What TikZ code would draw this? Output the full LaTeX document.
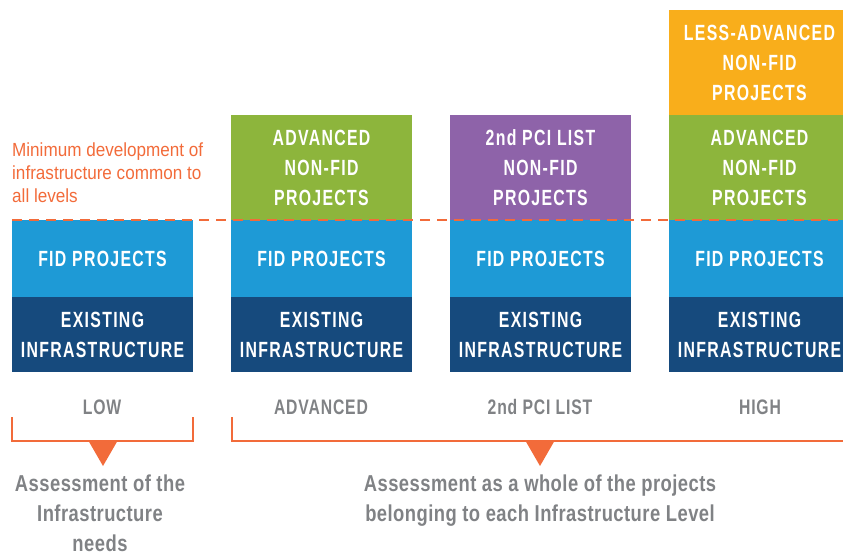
\documentclass[tikz,border=0pt]{standalone}
\usepackage{fontspec}
\newfontfamily\boxfont[FakeStretch=0.72,LetterSpace=6]{Liberation Sans Bold}
\newfontfamily\grayfont[FakeStretch=0.75,LetterSpace=4]{Liberation Sans Bold}
\newfontfamily\bottomfont[FakeStretch=0.8,LetterSpace=2]{Liberation Sans Bold}
\newfontfamily\notefont[FakeStretch=0.9]{Liberation Sans}
\definecolor{accent}{HTML}{F26B3A}
\definecolor{lblue}{HTML}{1E9AD6}
\definecolor{dblue}{HTML}{164A7D}
\definecolor{lgreen}{HTML}{8DB53C}
\definecolor{purp}{HTML}{8E63A9}
\definecolor{yorange}{HTML}{F9AE1B}
\definecolor{gtext}{HTML}{808285}
\begin{document}
\begin{tikzpicture}[x=1pt,y=-1pt,
  box/.style={inner sep=0pt, outer sep=0pt, minimum width=181pt, anchor=north west, text=white,
    font=\boxfont\fontsize{22}{30}\selectfont, align=center},
  exist/.style={box, fill=dblue, minimum height=75pt},
  fid/.style={box, fill=lblue, minimum height=77pt},
  tall/.style={box, minimum height=105pt},
  lvl/.style={text=gtext, font=\grayfont\fontsize{21}{30}\selectfont, inner sep=0pt},
  note/.style={text=gtext, font=\bottomfont\fontsize{23}{30}\selectfont, align=center, inner sep=0pt, anchor=north},
  bracket/.style={draw=accent, line width=2.5pt},
  tri/.style={fill=accent}
]
\useasboundingbox (0,0) rectangle (843,558);
% column 1
\node[exist] (e1) at (12,297) {EXISTING\\INFRASTRUCTURE};
\node[fid] (f1) at (12,220) {FID PROJECTS};
% column 2
\node[exist] (e2) at (231,297) {EXISTING\\INFRASTRUCTURE};
\node[fid] (f2) at (231,220) {FID PROJECTS};
\node[tall, fill=lgreen] (g2) at (231,115) {ADVANCED\\NON-FID\\PROJECTS};
% column 3
\node[exist] (e3) at (450,297) {EXISTING\\INFRASTRUCTURE};
\node[fid] (f3) at (450,220) {FID PROJECTS};
\node[tall, fill=purp] (p3) at (450,115) {2nd PCI LIST\\NON-FID\\PROJECTS};
% column 4
\node[exist] (e4) at (669,297) {EXISTING\\INFRASTRUCTURE};
\node[fid] (f4) at (669,220) {FID PROJECTS};
\node[tall, fill=lgreen] (g4) at (669,115) {ADVANCED\\NON-FID\\PROJECTS};
\node[tall, fill=yorange] (o4) at (669,10) {LESS-ADVANCED\\NON-FID\\PROJECTS};
% dashed line
\coordinate (dl) at (12,220);
\coordinate (dr) at (843,220);
\draw[accent, line width=2.5pt, dash pattern=on 10pt off 7pt] (dl) -- (dr);
% note
\node[text=accent, font=\notefont\fontsize{19}{23}\selectfont, align=left, anchor=south west, inner sep=0pt] (min) at (12,203)
  {Minimum development of\\infrastructure common to\\all levels};
% level labels
\node[lvl] (l1) at (102,407) {LOW};
\node[lvl] (l2) at (321,407) {ADVANCED};
\node[lvl] (l3) at (540,407) {2nd PCI LIST};
\node[lvl] (l4) at (760,407) {HIGH};
% brackets
\draw[bracket] (12,417) -- (12,441) -- (193,441) -- (193,417);
\draw[bracket] (232,417) -- (232,441) -- (850,441);
\fill[tri] (88,440) -- (118,440) -- (103,466) -- cycle;
\fill[tri] (525,440) -- (555,440) -- (540,466) -- cycle;
% bottom notes
\node[note] (n1) at (100,475) {Assessment of the\\Infrastructure\\needs};
\node[note] (n2) at (540,475) {Assessment as a whole of the projects\\belonging to each Infrastructure Level};
\end{tikzpicture}
\end{document}
